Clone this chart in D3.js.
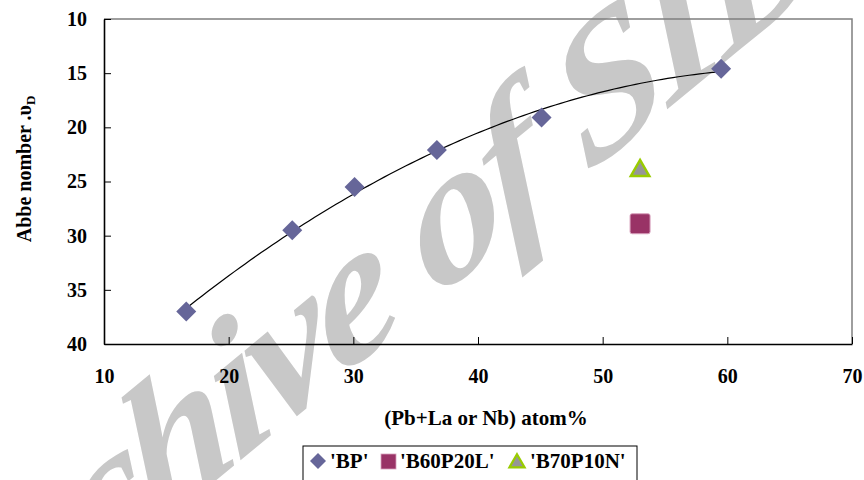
<!DOCTYPE html>
<html>
<head>
<meta charset="utf-8">
<script src="https://cdn.jsdelivr.net/npm/d3@7"></script>
<style>
  html, body { margin: 0; padding: 0; background: #ffffff; }
  svg { display: block; }
</style>
</head>
<body>
<svg id="chart" width="864" height="480"></svg>
<script>
// ---- data ----
const bpX = [16.6, 25.1, 30.1, 36.7, 45.1, 59.5];
const bpY = [37.0, 29.5, 25.5, 22.1, 19.1, 14.6];
const b60X = [53.0];
const b60Y = [28.9];
const b70X = [53.0];
const b70Y = [24.0];
const xTicks = [10, 20, 30, 40, 50, 60, 70];
const yTicks = [10, 15, 20, 25, 30, 35, 40];
const seriesNames = ["'BP'", "'B60P20L'", "'B70P10N'"];
const xTitle = "(Pb+La or Nb) atom%";
const watermark = "Archive of SID";

// pick an installed serif face
function hasFont(name) {
  const c = document.createElement("canvas").getContext("2d");
  const s = "mmmmmmmmmmlliWWQQ0123456789";
  return ["monospace", "sans-serif"].some(fb => {
    c.font = `72px ${fb}`;
    const w0 = c.measureText(s).width;
    c.font = `72px "${name}", ${fb}`;
    return c.measureText(s).width !== w0;
  });
}
const serifCandidates = ["Liberation Serif", "Tinos", "Times New Roman", "Times", "Nimbus Roman", "FreeSerif", "DejaVu Serif", "Noto Serif"];
const found = serifCandidates.find(hasFont);
const FONT = found ? `"${found}", serif` : "serif";

const svg = d3.select("#chart");
const pLeft = 104, pRight = 852, pTop = 19, pBottom = 344;

const x = d3.scaleLinear().domain([10, 70]).range([pLeft, pRight]);
const y = d3.scaleLinear().domain([10, 40]).range([pTop, pBottom]);

// watermark (behind everything)
svg.append("text")
  .attr("transform", "matrix(1.58,-1.30,0.697,1.74,-63,710)")
  .style("font-family", FONT)
  .style("letter-spacing", "-4px")
  .attr("font-size", 100)
  .attr("font-style", "italic")
  .attr("font-weight", "bold")
  .attr("fill", "#c8c8c8")
  .text(watermark);

// plot frame (top/right in grey)
svg.append("path")
  .attr("d", `M${pLeft},${pTop}H${pRight}V${pBottom}`)
  .attr("fill", "none")
  .attr("stroke", "#7f7f7f")
  .attr("stroke-width", 1.5);

// axes
const xAxis = d3.axisBottom(x).tickValues(xTicks).tickSizeInner(-7).tickSizeOuter(0).tickPadding(25)
  .tickFormat(d3.format("d"));
const yAxis = d3.axisLeft(y).tickValues(yTicks).tickSizeInner(-7).tickSizeOuter(0).tickPadding(17)
  .tickFormat(d3.format("d"));

const gx = svg.append("g").attr("transform", `translate(0,${pBottom})`).call(xAxis);
const gy = svg.append("g").attr("transform", `translate(${pLeft},0)`).call(yAxis);
[gx, gy].forEach(g => {
  g.attr("font-family", null);
  g.select(".domain").attr("stroke", "#000").attr("stroke-width", 1.6);
  g.selectAll(".tick line").attr("stroke", "#000").attr("stroke-width", 1);
  g.selectAll(".tick text")
    .style("font-family", FONT)
    .attr("font-weight", "bold")
    .attr("font-size", 20)
    .attr("fill", "#000");
});

// axis titles
svg.append("text")
  .attr("x", 486).attr("y", 425)
  .attr("text-anchor", "middle")
  .style("font-family", FONT)
  .attr("font-weight", "bold")
  .attr("font-size", 21)
  .text(xTitle);

const yt = svg.append("text")
  .attr("transform", "translate(31,169) rotate(-90)")
  .attr("text-anchor", "middle")
  .style("font-family", FONT)
  .attr("font-weight", "bold")
  .attr("font-size", 20);
yt.append("tspan").text("Abbe nomber .υ");
yt.append("tspan").attr("font-size", 13).attr("dy", 4).text("D");

// quadratic trendline (least squares on BP series)
function quadFit(xs, ys) {
  let S = [0,0,0,0,0], T = [0,0,0];
  xs.forEach((xi, i) => {
    for (let k = 0; k < 5; k++) S[k] += Math.pow(xi, k);
    for (let k = 0; k < 3; k++) T[k] += ys[i] * Math.pow(xi, k);
  });
  const A = [[S[0],S[1],S[2],T[0]],[S[1],S[2],S[3],T[1]],[S[2],S[3],S[4],T[2]]];
  for (let i = 0; i < 3; i++) {
    for (let j = i + 1; j < 3; j++) {
      const f = A[j][i] / A[i][i];
      for (let k = i; k < 4; k++) A[j][k] -= f * A[i][k];
    }
  }
  const c = [0,0,0];
  for (let i = 2; i >= 0; i--) {
    let s = A[i][3];
    for (let k = i + 1; k < 3; k++) s -= A[i][k] * c[k];
    c[i] = s / A[i][i];
  }
  return c;
}
const coef = quadFit(bpX, bpY);
const xmin = d3.min(bpX), xmax = d3.max(bpX);
const trend = d3.range(0, 101).map(i => {
  const xv = xmin + (xmax - xmin) * i / 100;
  return [xv, coef[0] + coef[1] * xv + coef[2] * xv * xv];
});
svg.append("path")
  .datum(trend)
  .attr("fill", "none")
  .attr("stroke", "#000")
  .attr("stroke-width", 1.2)
  .attr("d", d3.line().x(d => x(d[0])).y(d => y(d[1])));

// markers
const diamond = d3.symbol().type(d3.symbolSquare).size(200);
svg.append("g").selectAll("path")
  .data(bpX.map((v, i) => [v, bpY[i]]))
  .join("path")
  .attr("d", diamond)
  .attr("transform", d => `translate(${x(d[0])},${y(d[1])}) rotate(45)`)
  .attr("fill", "#666699");

svg.append("g").selectAll("rect")
  .data(b60X.map((v, i) => [v, b60Y[i]]))
  .join("rect")
  .attr("x", d => x(d[0]) - 10).attr("y", d => y(d[1]) - 10)
  .attr("width", 20).attr("height", 20).attr("rx", 2)
  .attr("fill", "#993366").attr("stroke", "#d8a0bc").attr("stroke-width", 1);

const tri = d3.symbol().type(d3.symbolTriangle).size(150);
svg.append("g").selectAll("path")
  .data(b70X.map((v, i) => [v, b70Y[i]]))
  .join("path")
  .attr("d", tri)
  .attr("transform", d => `translate(${x(d[0])},${y(d[1])})`)
  .attr("fill", "#969696").attr("stroke", "#99cc00").attr("stroke-width", 2.4)
  .attr("stroke-linejoin", "miter");

// legend
const lg = svg.append("g");
lg.append("rect").attr("x", 303).attr("y", 446).attr("width", 334).attr("height", 40)
  .attr("fill", "#fff").attr("stroke", "#000").attr("stroke-width", 1);
lg.append("path").attr("d", d3.symbol().type(d3.symbolSquare).size(128)())
  .attr("transform", "translate(318,461) rotate(45)").attr("fill", "#666699");
lg.append("rect").attr("x", 381).attr("y", 454).attr("width", 15).attr("height", 15)
  .attr("fill", "#993366").attr("stroke", "#d8a0bc").attr("stroke-width", 0.8);
lg.append("path").attr("d", d3.symbol().type(d3.symbolTriangle).size(100)())
  .attr("transform", "translate(517,463)")
  .attr("fill", "#969696").attr("stroke", "#99cc00").attr("stroke-width", 2.2);
const legX = [330, 400, 530];
seriesNames.forEach((n, i) => {
  lg.append("text").attr("x", legX[i]).attr("y", 468)
    .style("font-family", FONT)
    .attr("font-weight", "bold").attr("font-size", 21).text(n);
});
</script>
</body>
</html>
